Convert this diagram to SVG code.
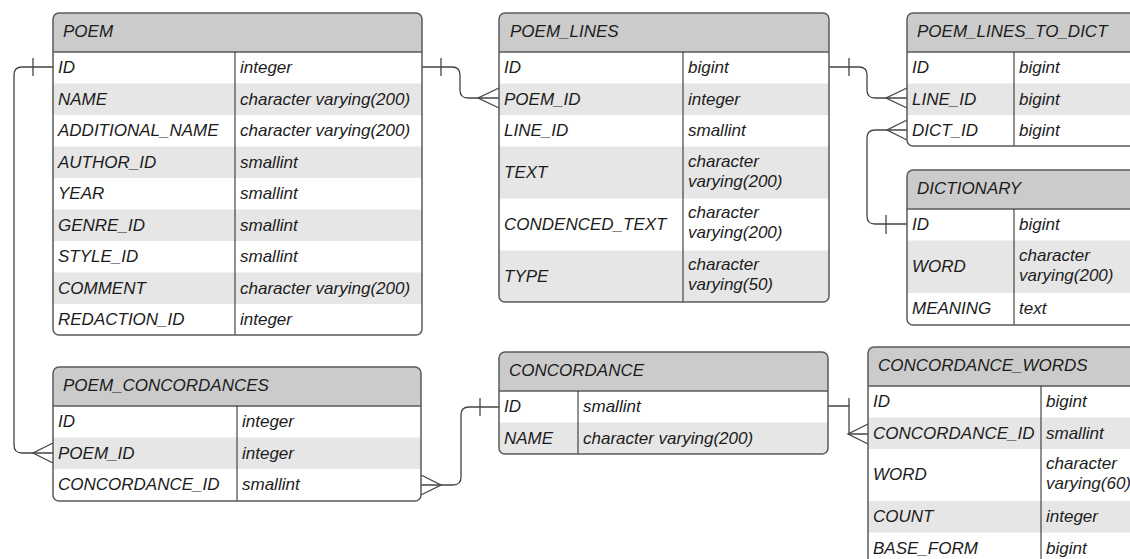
<svg xmlns="http://www.w3.org/2000/svg" width="1130" height="559" viewBox="0 0 1130 559">
<style>
.bg{fill:#ffffff}
.hdr{fill:#cbcbcb}
.alt{fill:#e6e6e6}
.frame{fill:none;stroke:#5a5a5a;stroke-width:1.5}
.sep{stroke:#5a5a5a;stroke-width:1.5}
.div{stroke:#222;stroke-width:1}
text{font-family:"Liberation Sans",Arial,sans-serif;font-style:italic;font-size:17px;fill:#1c1c1c}
.conn{fill:none;stroke:#444;stroke-width:1.3}
</style>
<defs>
<clipPath id="c1"><rect x="53" y="13" width="369" height="322" rx="6"/></clipPath>
<clipPath id="c2"><rect x="499" y="13" width="330" height="289" rx="6"/></clipPath>
<clipPath id="c3"><rect x="907" y="13" width="240" height="133" rx="6"/></clipPath>
<clipPath id="c4"><rect x="907" y="170" width="240" height="155" rx="6"/></clipPath>
<clipPath id="c5"><rect x="53" y="367" width="368" height="134" rx="6"/></clipPath>
<clipPath id="c6"><rect x="499" y="352" width="329" height="102" rx="6"/></clipPath>
<clipPath id="c7"><rect x="868" y="347" width="280" height="230" rx="6"/></clipPath>
</defs>

<g id="connectors">
  <!-- POEM.ID -> POEM_CONCORDANCES.POEM_ID -->
  <path class="conn" d="M53,67 H22 Q14,67 14,75 V445 Q14,453 22,453 H53"/>
  <path class="conn" d="M33,58 V76"/>
  <path class="conn" d="M53,443 L33,453 L53,463"/>
  <!-- POEM.ID -> POEM_LINES.POEM_ID -->
  <path class="conn" d="M422,67 H452 Q460,67 460,75 V90 Q460,98 468,98 H499"/>
  <path class="conn" d="M441,58 V76"/>
  <path class="conn" d="M499,88 L478,98 L499,108"/>
  <!-- POEM_LINES.ID -> POEM_LINES_TO_DICT.LINE_ID -->
  <path class="conn" d="M829,67 H859 Q867,67 867,75 V90 Q867,98 875,98 H907"/>
  <path class="conn" d="M849,58 V76"/>
  <path class="conn" d="M907,88 L886,98 L907,108"/>
  <!-- DICTIONARY.ID -> POEM_LINES_TO_DICT.DICT_ID -->
  <path class="conn" d="M907,130 H875 Q867,130 867,138 V216 Q867,224 875,224 H907"/>
  <path class="conn" d="M907,120 L887,130 L907,140"/>
  <path class="conn" d="M886,215 V234"/>
  <!-- CONCORDANCE.ID -> POEM_CONCORDANCES.CONCORDANCE_ID -->
  <path class="conn" d="M421,485 H453 Q461,485 461,477 V415 Q461,407 469,407 H499"/>
  <path class="conn" d="M421,475 L441,485 L421,495"/>
  <path class="conn" d="M480,398 V416"/>
  <!-- CONCORDANCE.ID -> CONCORDANCE_WORDS.CONCORDANCE_ID -->
  <path class="conn" d="M828,406 H849 V434 H868"/>
  <path class="conn" d="M849,398 V406"/>
  <path class="conn" d="M868,424 L848,434 L868,444"/>
</g>

<g id="POEM">
  <g clip-path="url(#c1)">
    <rect class="bg" x="53" y="13" width="369" height="322"/>
    <rect class="hdr" x="53" y="13" width="369" height="39"/>
    <rect class="alt" x="53" y="83.5" width="369" height="31.5"/>
    <rect class="alt" x="53" y="146.5" width="369" height="31.5"/>
    <rect class="alt" x="53" y="209.5" width="369" height="31.5"/>
    <rect class="alt" x="53" y="272.5" width="369" height="31.5"/>
  </g>
  <line class="sep" x1="53" y1="52" x2="422" y2="52"/>
  <line class="div" x1="235" y1="52" x2="235" y2="335"/>
  <rect class="frame" x="53" y="13" width="369" height="322" rx="6"/>
  <text x="63" y="37">POEM</text>
  <text x="58" y="73">ID</text><text x="240" y="73">integer</text>
  <text x="58" y="104.5">NAME</text><text x="240" y="104.5">character varying(200)</text>
  <text x="58" y="136">ADDITIONAL_NAME</text><text x="240" y="136">character varying(200)</text>
  <text x="58" y="167.5">AUTHOR_ID</text><text x="240" y="167.5">smallint</text>
  <text x="58" y="199">YEAR</text><text x="240" y="199">smallint</text>
  <text x="58" y="230.5">GENRE_ID</text><text x="240" y="230.5">smallint</text>
  <text x="58" y="262">STYLE_ID</text><text x="240" y="262">smallint</text>
  <text x="58" y="293.5">COMMENT</text><text x="240" y="293.5">character varying(200)</text>
  <text x="58" y="325">REDACTION_ID</text><text x="240" y="325">integer</text>
</g>

<g id="POEM_LINES">
  <g clip-path="url(#c2)">
    <rect class="bg" x="499" y="13" width="330" height="289"/>
    <rect class="hdr" x="499" y="13" width="330" height="39"/>
    <rect class="alt" x="499" y="83.5" width="330" height="31.5"/>
    <rect class="alt" x="499" y="146.5" width="330" height="52"/>
    <rect class="alt" x="499" y="250.5" width="330" height="52"/>
  </g>
  <line class="sep" x1="499" y1="52" x2="829" y2="52"/>
  <line class="div" x1="683" y1="52" x2="683" y2="302"/>
  <rect class="frame" x="499" y="13" width="330" height="289" rx="6"/>
  <text x="510" y="37">POEM_LINES</text>
  <text x="504" y="73">ID</text><text x="688" y="73">bigint</text>
  <text x="504" y="104.5">POEM_ID</text><text x="688" y="104.5">integer</text>
  <text x="504" y="136">LINE_ID</text><text x="688" y="136">smallint</text>
  <text x="504" y="178">TEXT</text><text x="688" y="167">character</text><text x="688" y="187">varying(200)</text>
  <text x="504" y="230">CONDENCED_TEXT</text><text x="688" y="218">character</text><text x="688" y="238">varying(200)</text>
  <text x="504" y="282">TYPE</text><text x="688" y="270">character</text><text x="688" y="290">varying(50)</text>
</g>

<g id="POEM_LINES_TO_DICT">
  <g clip-path="url(#c3)">
    <rect class="bg" x="907" y="13" width="240" height="133"/>
    <rect class="hdr" x="907" y="13" width="240" height="39"/>
    <rect class="alt" x="907" y="83.5" width="240" height="31.5"/>
  </g>
  <line class="sep" x1="907" y1="52" x2="1147" y2="52"/>
  <line class="div" x1="1014" y1="52" x2="1014" y2="146"/>
  <rect class="frame" x="907" y="13" width="240" height="133" rx="6"/>
  <text x="917" y="37">POEM_LINES_TO_DICT</text>
  <text x="912" y="73">ID</text><text x="1019" y="73">bigint</text>
  <text x="912" y="104.5">LINE_ID</text><text x="1019" y="104.5">bigint</text>
  <text x="912" y="136">DICT_ID</text><text x="1019" y="136">bigint</text>
</g>

<g id="DICTIONARY">
  <g clip-path="url(#c4)">
    <rect class="bg" x="907" y="170" width="240" height="155"/>
    <rect class="hdr" x="907" y="170" width="240" height="39"/>
    <rect class="alt" x="907" y="240.5" width="240" height="52.5"/>
  </g>
  <line class="sep" x1="907" y1="209" x2="1147" y2="209"/>
  <line class="div" x1="1014" y1="209" x2="1014" y2="325"/>
  <rect class="frame" x="907" y="170" width="240" height="155" rx="6"/>
  <text x="917" y="194">DICTIONARY</text>
  <text x="912" y="230">ID</text><text x="1019" y="230">bigint</text>
  <text x="912" y="272">WORD</text><text x="1019" y="261">character</text><text x="1019" y="281">varying(200)</text>
  <text x="912" y="314">MEANING</text><text x="1019" y="314">text</text>
</g>

<g id="POEM_CONCORDANCES">
  <g clip-path="url(#c5)">
    <rect class="bg" x="53" y="367" width="368" height="134"/>
    <rect class="hdr" x="53" y="367" width="368" height="39"/>
    <rect class="alt" x="53" y="437.5" width="368" height="31.5"/>
  </g>
  <line class="sep" x1="53" y1="406" x2="421" y2="406"/>
  <line class="div" x1="237" y1="406" x2="237" y2="501"/>
  <rect class="frame" x="53" y="367" width="368" height="134" rx="6"/>
  <text x="63" y="391">POEM_CONCORDANCES</text>
  <text x="58" y="427">ID</text><text x="242" y="427">integer</text>
  <text x="58" y="458.5">POEM_ID</text><text x="242" y="458.5">integer</text>
  <text x="58" y="490">CONCORDANCE_ID</text><text x="242" y="490">smallint</text>
</g>

<g id="CONCORDANCE">
  <g clip-path="url(#c6)">
    <rect class="bg" x="499" y="352" width="329" height="102"/>
    <rect class="hdr" x="499" y="352" width="329" height="39"/>
    <rect class="alt" x="499" y="422.5" width="329" height="31.5"/>
  </g>
  <line class="sep" x1="499" y1="391" x2="828" y2="391"/>
  <line class="div" x1="578" y1="391" x2="578" y2="454"/>
  <rect class="frame" x="499" y="352" width="329" height="102" rx="6"/>
  <text x="509" y="376">CONCORDANCE</text>
  <text x="504" y="412">ID</text><text x="583" y="412">smallint</text>
  <text x="504" y="443.5">NAME</text><text x="583" y="443.5">character varying(200)</text>
</g>

<g id="CONCORDANCE_WORDS">
  <g clip-path="url(#c7)">
    <rect class="bg" x="868" y="347" width="280" height="230"/>
    <rect class="hdr" x="868" y="347" width="280" height="39"/>
    <rect class="alt" x="868" y="417.5" width="280" height="31.5"/>
    <rect class="alt" x="868" y="501" width="280" height="31.5"/>
  </g>
  <line class="sep" x1="868" y1="386" x2="1148" y2="386"/>
  <line class="div" x1="1041" y1="386" x2="1041" y2="577"/>
  <rect class="frame" x="868" y="347" width="280" height="230" rx="6"/>
  <text x="878" y="371">CONCORDANCE_WORDS</text>
  <text x="873" y="407">ID</text><text x="1046" y="407">bigint</text>
  <text x="873" y="438.5">CONCORDANCE_ID</text><text x="1046" y="438.5">smallint</text>
  <text x="873" y="480">WORD</text><text x="1046" y="469">character</text><text x="1046" y="489">varying(60)</text>
  <text x="873" y="522">COUNT</text><text x="1046" y="522">integer</text>
  <text x="873" y="553.5">BASE_FORM</text><text x="1046" y="553.5">bigint</text>
</g>
</svg>
